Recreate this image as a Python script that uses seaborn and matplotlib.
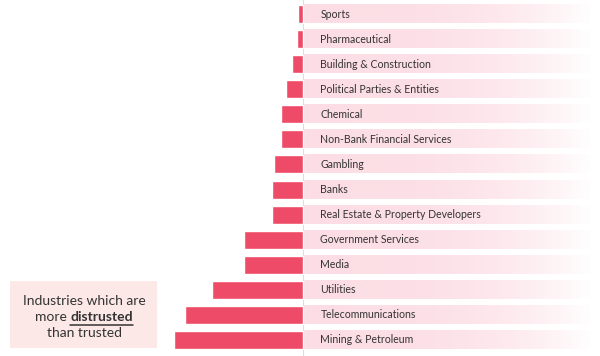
import numpy as np
import pandas as pd
import seaborn as sns
import matplotlib.pyplot as plt

# Industries ordered top to bottom, net trust score (negative = more distrusted)
industries = ['Sports', 'Pharmaceutical', 'Building & Construction',
              'Political Parties & Entities', 'Chemical', 'Non-Bank Financial Services',
              'Gambling', 'Banks', 'Real Estate & Property Developers',
              'Government Services', 'Media', 'Utilities', 'Telecommunications',
              'Mining & Petroleum']
net_trust = [-1.2, -1.4, -2.6, -4.0, -5.1, -5.1, -6.7, -7.2, -7.2,
             -13.7, -13.7, -21.2, -27.4, -30.0]

BAR_RED = '#ee4b68'
TEXT_GREY = '#333333'


def main():
    df = pd.DataFrame({'industry': industries, 'net': net_trust})

    sns.set_style('white')
    plt.rcParams['font.family'] = ['Lato', 'DejaVu Sans']

    fig = plt.figure(figsize=(6, 3.56), dpi=100)
    ax = fig.add_axes([0, 0, 1, 1])

    # faded pink background strip behind every label
    grad = np.linspace(0, 1, 256).reshape(1, -1)
    pink = np.array([0.99, 0.87, 0.90])
    rgba = np.ones((1, 256, 4))
    rgba[0, :, :3] = pink[None, :] * (1 - grad.T**3) + np.ones(3)[None, :] * grad.T**3
    rgba[0, :, 3] = 1
    for i, name in enumerate(df['industry']):
        ax.imshow(rgba, extent=(0, 67, i + 0.36, i - 0.36), aspect='auto',
                  zorder=0, interpolation='bilinear')
        ax.text(4, i, name, va='center', ha='left', fontsize=7.6,
                color=TEXT_GREY, zorder=3)

    sns.barplot(data=df, x='net', y='industry', orient='h', color=BAR_RED,
                saturation=1, width=0.72, ax=ax, zorder=2)

    ax.axvline(0, color='#dddddd', lw=0.8, zorder=1)

    ax.set_xlim(-70.5, 69)
    ax.set_ylim(13.64, -0.56)
    ax.set_axis_off()

    # annotation box at lower left
    fig.patches.append(plt.Rectangle((10 / 600, 8 / 356), 147 / 600, 67 / 356,
                                     transform=fig.transFigure,
                                     facecolor='#fde8e8', edgecolor='none'))
    cx = 84 / 600
    fs = 10
    fig.text(cx, 1 - 301 / 356, 'Industries which are', ha='center', va='center',
             fontsize=fs, color=TEXT_GREY)
    fig.text(cx, 1 - 333 / 356, 'than trusted', ha='center', va='center',
             fontsize=fs, color=TEXT_GREY)

    # "more distrusted" with the second word bold + underlined
    y2 = 1 - 317 / 356
    t1 = fig.text(0, y2, 'more ', ha='left', va='center', fontsize=fs, color=TEXT_GREY)
    t2 = fig.text(0, y2, 'distrusted', ha='left', va='center', fontsize=fs,
                  color=TEXT_GREY, fontweight='bold')
    fig.canvas.draw()
    r = fig.canvas.get_renderer()
    w1 = t1.get_window_extent(r).width / fig.bbox.width
    w2 = t2.get_window_extent(r).width / fig.bbox.width
    x0 = cx - (w1 + w2) / 2
    t1.set_x(x0)
    t2.set_x(x0 + w1)
    uy = y2 - 7.5 / 356
    fig.add_artist(plt.Line2D([x0 + w1, x0 + w1 + w2], [uy, uy],
                              transform=fig.transFigure, color=TEXT_GREY, lw=1.1))

    fig.savefig('out.png', dpi=100)


if __name__ == "__main__":
    main()
